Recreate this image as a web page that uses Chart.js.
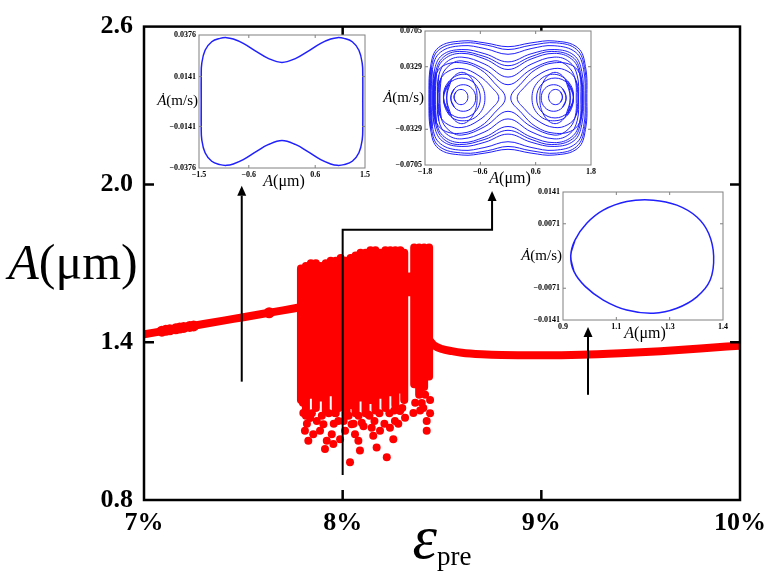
<!DOCTYPE html>
<html>
<head>
<meta charset="utf-8">
<script src="https://cdn.jsdelivr.net/npm/chart.js@4.4.0/dist/chart.umd.min.js"></script>
<style>
html, body { margin: 0; padding: 0; background: #fff; }
#wrap { position: relative; width: 774px; height: 577px; }
canvas { position: absolute; }
</style>
</head>
<body>
<div id="wrap">
  <canvas id="main" width="774" height="577" style="left:0;top:0"></canvas>
  <canvas id="in1"></canvas>
  <canvas id="in2"></canvas>
  <canvas id="in3"></canvas>
</div>
<script>
// ---- main diagram data ----
const xTickValues = [7, 8, 9, 10];
const yTickValues = [0.8, 1.4, 2.0, 2.6];

// period-1 branch before the chaotic window
const leftX = [7.0, 7.1, 7.2, 7.3, 7.4, 7.5, 7.6, 7.7, 7.78];
const leftY = [1.430, 1.443, 1.456, 1.469, 1.482, 1.495, 1.508, 1.521, 1.532];
// beads on the left branch
const beadX = [7.09, 7.11, 7.13, 7.16, 7.18, 7.2, 7.23, 7.25, 7.63];
const beadY = [1.442, 1.445, 1.447, 1.451, 1.454, 1.456, 1.46, 1.462, 1.512];
// branch after the chaotic window
const rightX = [8.44, 8.46, 8.5, 8.55, 8.6, 8.7, 8.8, 9.0, 9.2, 9.4, 9.6, 9.8, 10.0];
const rightY = [1.405, 1.388, 1.374, 1.366, 1.360, 1.354, 1.351, 1.350, 1.352, 1.358, 1.366, 1.376, 1.387];

// chaotic window: dense columns (low / high) and loose points below them
const chaosX = [7.79, 7.815, 7.84, 7.865, 7.89, 7.915, 7.94, 7.965, 7.99, 8.015, 8.04, 8.065, 8.09, 8.115,
                8.14, 8.165, 8.19, 8.215, 8.24, 8.265, 8.29, 8.31, 8.335, 8.36, 8.385, 8.41, 8.435];
const chaosLow = [1.18, 1.12, 1.20, 1.15, 1.19, 1.14, 1.21, 1.13, 1.17, 1.12, 1.16, 1.13, 1.19, 1.13,
                  1.18, 1.14, 1.20, 1.15, 1.21, 1.16, 1.22, 1.18, 1.59, 1.24, 1.20, 1.23, 1.27];
const chaosHigh = [1.68, 1.69, 1.70, 1.70, 1.69, 1.70, 1.71, 1.71, 1.72, 1.71, 1.72, 1.73, 1.74, 1.74,
                   1.75, 1.75, 1.74, 1.75, 1.75, 1.75, 1.75, 1.74, 1.65, 1.76, 1.76, 1.76, 1.76];
const dotX = [7.802, 7.836, 7.810, 7.827, 7.852, 7.886, 7.903, 7.920, 7.911, 7.945, 7.961, 7.978, 8.012,
              8.020, 8.045, 8.062, 8.087, 8.096, 8.129, 8.146, 8.171, 8.188, 8.222, 8.255, 8.263, 8.289,
              8.314, 8.356, 8.406, 8.423, 8.423, 8.398, 8.037, 7.953, 7.987, 8.079, 8.154, 8.238,
              7.80, 7.82, 7.845, 7.87, 7.895, 7.93, 7.955, 7.98, 8.005, 8.03, 8.055, 8.08, 8.105,
              8.135, 8.16, 8.185, 8.21, 8.235, 8.26, 8.28, 8.30, 8.365, 8.39, 8.415, 8.44, 8.44];
const dotY = [1.131, 1.112, 1.063, 1.025, 1.050, 1.063, 1.088, 1.025, 0.994, 1.050, 1.131, 1.100, 1.063,
              1.138, 1.088, 1.050, 0.988, 1.094, 1.125, 1.075, 1.000, 1.063, 0.963, 1.031, 1.100, 1.138,
              1.113, 1.131, 1.150, 1.100, 1.063, 1.169, 0.944, 1.013, 1.031, 1.025, 1.044, 1.075,
              1.17, 1.09, 1.13, 1.10, 1.12, 1.13, 1.09, 1.15, 1.10, 1.12, 1.09, 1.12, 1.08,
              1.12, 1.10, 1.13, 1.09, 1.13, 1.14, 1.09, 1.15, 1.17, 1.14, 1.20, 1.18, 1.13];

// pointer arrows (data coordinates), last point is the tip
const arrowPaths = [
  [[7.492, 1.25], [7.492, 1.995]],
  [[8.0, 0.895], [8.0, 1.828], [8.752, 1.828], [8.752, 1.975]],
  [[9.235, 1.20], [9.235, 1.458]]
];

// ---- inset phase portraits ----
const cycle1 = [[-1.46,0],[-1.46,0.014],[-1.45,0.0215],[-1.39,0.029],[-1.27,0.0338],[-1.12,0.0357],[-1.0,0.0361],
  [-0.88,0.0353],[-0.70,0.0329],[-0.46,0.0282],[-0.25,0.0244],[0,0.0221],[0.25,0.0244],[0.46,0.0282],[0.70,0.0329],
  [0.88,0.0353],[1.0,0.0361],[1.12,0.0357],[1.27,0.0338],[1.39,0.029],[1.45,0.0215],[1.46,0.014],[1.46,0],
  [1.46,-0.014],[1.45,-0.0215],[1.39,-0.029],[1.27,-0.0338],[1.12,-0.0357],[1.0,-0.0361],[0.88,-0.0353],
  [0.70,-0.0329],[0.46,-0.0282],[0.25,-0.0244],[0,-0.0221],[-0.25,-0.0244],[-0.46,-0.0282],[-0.70,-0.0329],
  [-0.88,-0.0353],[-1.0,-0.0361],[-1.12,-0.0357],[-1.27,-0.0338],[-1.39,-0.029],[-1.45,-0.0215],[-1.46,-0.014]];

const chaosLoops = [
  [[-1.71,0],[-1.68,0.033],[-1.51,0.053],[-1.0,0.060],[-0.5,0.058],[0,0.054],[0.5,0.058],[1.0,0.060],[1.51,0.053],[1.68,0.033],
   [1.71,0],[1.68,-0.033],[1.51,-0.053],[1.0,-0.060],[0.5,-0.058],[0,-0.054],[-0.5,-0.058],[-1.0,-0.060],[-1.51,-0.053],[-1.68,-0.033]],
  [[-1.69,0],[-1.66,0.032],[-1.49,0.051],[-0.95,0.058],[-0.45,0.0555],[0,0.051],[0.5,0.0555],[1.05,0.058],[1.49,0.051],[1.66,0.032],
   [1.69,0],[1.66,-0.032],[1.49,-0.051],[1.05,-0.058],[0.5,-0.0555],[0,-0.051],[-0.45,-0.0555],[-0.95,-0.058],[-1.49,-0.051],[-1.66,-0.032]],
  [[-1.67,0],[-1.64,0.030],[-1.47,0.048],[-1.0,0.055],[-0.5,0.052],[0,0.046],[0.5,0.052],[1.0,0.055],[1.47,0.048],[1.64,0.030],
   [1.67,0],[1.64,-0.030],[1.47,-0.048],[1.0,-0.055],[0.5,-0.052],[0,-0.046],[-0.5,-0.052],[-1.0,-0.055],[-1.47,-0.048],[-1.64,-0.030]],
  [[-1.63,0],[-1.60,0.028],[-1.43,0.045],[-1.0,0.051],[-0.5,0.0465],[0,0.038],[0.5,0.0465],[1.0,0.051],[1.43,0.045],[1.60,0.028],
   [1.63,0],[1.60,-0.028],[1.43,-0.045],[1.0,-0.051],[0.5,-0.0465],[0,-0.038],[-0.5,-0.0465],[-1.0,-0.051],[-1.43,-0.045],[-1.60,-0.028]],
  [[-1.60,0],[-1.57,0.027],[-1.40,0.043],[-1.05,0.049],[-0.5,0.0435],[0,0.034],[0.5,0.0435],[0.95,0.049],[1.40,0.043],[1.57,0.027],
   [1.60,0],[1.57,-0.027],[1.40,-0.043],[0.95,-0.049],[0.5,-0.0435],[0,-0.034],[-0.5,-0.0435],[-1.05,-0.049],[-1.40,-0.043],[-1.57,-0.027]],
  [[-1.58,0],[-1.55,0.026],[-1.38,0.041],[-1.0,0.047],[-0.5,0.041],[0,0.030],[0.5,0.041],[1.0,0.047],[1.38,0.041],[1.55,0.026],
   [1.58,0],[1.55,-0.026],[1.38,-0.041],[1.0,-0.047],[0.5,-0.041],[0,-0.030],[-0.5,-0.041],[-1.0,-0.047],[-1.38,-0.041],[-1.55,-0.026]],
  [[-1.53,0],[-1.50,0.024],[-1.33,0.038],[-1.0,0.043],[-0.5,0.0355],[0,0.022],[0.5,0.0355],[1.0,0.043],[1.33,0.038],[1.50,0.024],
   [1.53,0],[1.50,-0.024],[1.33,-0.038],[1.0,-0.043],[0.5,-0.0355],[0,-0.022],[-0.5,-0.0355],[-1.0,-0.043],[-1.33,-0.038],[-1.50,-0.024]],
  [[-1.48,0],[-1.45,0.021],[-1.28,0.034],[-1.0,0.039],[-0.5,0.030],[0,0.014],[0.5,0.030],[1.0,0.039],[1.28,0.034],[1.45,0.021],
   [1.48,0],[1.45,-0.021],[1.28,-0.034],[1.0,-0.039],[0.5,-0.030],[0,-0.014],[-0.5,-0.030],[-1.0,-0.039],[-1.28,-0.034],[-1.45,-0.021]],
  [[-1.62,0],[-1.58,0.022],[-1.40,0.034],[-1.0,0.037],[-0.6,0.030],[-0.3,0.016],[-0.06,0],[-0.3,-0.016],[-0.6,-0.030],[-1.0,-0.037],[-1.40,-0.034],[-1.58,-0.022]],
  [[-1.52,0],[-1.48,0.018],[-1.30,0.028],[-1.0,0.031],[-0.65,0.024],[-0.35,0.011],[-0.2,0],[-0.35,-0.011],[-0.65,-0.024],[-1.0,-0.031],[-1.30,-0.028],[-1.48,-0.018]],
  [[1.62,0],[1.58,0.022],[1.40,0.034],[1.0,0.037],[0.6,0.030],[0.3,0.016],[0.06,0],[0.3,-0.016],[0.6,-0.030],[1.0,-0.037],[1.40,-0.034],[1.58,-0.022]],
  [[1.52,0],[1.48,0.018],[1.30,0.028],[1.0,0.031],[0.65,0.024],[0.35,0.011],[0.2,0],[0.35,-0.011],[0.65,-0.024],[1.0,-0.031],[1.30,-0.028],[1.48,-0.018]],
  [[-1.40,0.002],[-1.27,0.018],[-0.95,0.025],[-0.63,0.017],[-0.50,0],[-0.63,-0.017],[-0.95,-0.024],[-1.27,-0.018]],
  [[-1.33,0],[-1.23,0.019],[-1.0,0.027],[-0.77,0.019],[-0.67,0],[-0.77,-0.019],[-1.0,-0.027],[-1.23,-0.019]],
  [[-1.40,0],[-1.28,0.015],[-1.0,0.021],[-0.72,0.015],[-0.60,0],[-0.72,-0.015],[-1.0,-0.021],[-1.28,-0.015]],
  [[-1.24,0],[-1.16,0.010],[-0.97,0.014],[-0.78,0.010],[-0.70,0],[-0.78,-0.010],[-0.97,-0.014],[-1.16,-0.010]],
  [[-1.17,0.001],[-1.125,0.0067],[-1.02,0.009],[-0.915,0.0067],[-0.87,0.001],[-0.915,-0.0047],[-1.02,-0.007],[-1.125,-0.0047]],
  [[1.42,0.002],[1.29,0.018],[0.97,0.025],[0.65,0.017],[0.52,0],[0.65,-0.017],[0.97,-0.024],[1.29,-0.018]],
  [[1.35,0],[1.25,0.019],[1.02,0.027],[0.79,0.019],[0.69,0],[0.79,-0.019],[1.02,-0.027],[1.25,-0.019]],
  [[1.42,0],[1.30,0.015],[1.02,0.021],[0.74,0.015],[0.62,0],[0.74,-0.015],[1.02,-0.021],[1.30,-0.015]],
  [[1.26,0],[1.18,0.010],[0.99,0.014],[0.80,0.010],[0.72,0],[0.80,-0.010],[0.99,-0.014],[1.18,-0.010]],
  [[1.18,0.001],[1.135,0.0067],[1.03,0.009],[0.925,0.0067],[0.88,0.001],[0.925,-0.0047],[1.03,-0.007],[1.135,-0.0047]]
];

const cycle3 = [[0.929,0],[0.945,0.0035],[0.989,0.0072],[1.051,0.0101],[1.139,0.0120],[1.239,0.0123],[1.327,0.0112],
  [1.402,0.0086],[1.446,0.0050],[1.465,0],[1.452,-0.0053],[1.402,-0.0090],[1.327,-0.0115],[1.239,-0.0126],
  [1.139,-0.0119],[1.051,-0.0097],[0.983,-0.0067],[0.941,-0.0034]];

const inset1XTicks = [-1.5, -0.6, 0.6, 1.5];
const inset1XLabels = ['\u22121.5', '\u22120.6', '0.6', '1.5'];
const inset1YTicks = [-0.0376, -0.0141, 0.0141, 0.0376];
const inset1YLabels = ['\u22120.0376', '\u22120.0141', '0.0141', '0.0376'];
const inset2XTicks = [-1.8, -0.6, 0.6, 1.8];
const inset2XLabels = ['\u22121.8', '\u22120.6', '0.6', '1.8'];
const inset2YTicks = [-0.0705, -0.0329, 0.0329, 0.0705];
const inset2YLabels = ['\u22120.0705', '\u22120.0329', '0.0329', '0.0705'];
const inset3XTicks = [0.9, 1.1, 1.3, 1.5];
const inset3XLabels = ['0.9', '1.1', '1.3', '1.4'];
const inset3YTicks = [-0.0141, -0.0071, 0.0071, 0.0141];
const inset3YLabels = ['\u22120.0141', '\u22120.0071', '0.0071', '0.0141'];

// ---- helpers ----
const SERIF = '"Liberation Serif", "Times New Roman", serif';
const RED = '#ff0000';
const BLUE = '#1f1fff';
Chart.defaults.font.family = SERIF;

const xy = (xs, ys) => xs.map((x, i) => ({ x: x, y: ys[i] }));
const closeLoop = pts => [pts[pts.length - 1], ...pts, pts[0], pts[1]].map(p => ({ x: p[0], y: p[1] }));

function drawRich(ctx, parts, x, y, align, size) {
  let w = 0;
  parts.forEach(p => {
    ctx.font = (p.i ? 'italic ' : '') + (p.s || size) + 'px ' + SERIF;
    p.w = ctx.measureText(p.t).width;
    w += p.w;
  });
  let cx = align === 'right' ? x - w : align === 'center' ? x - w / 2 : x;
  ctx.textAlign = 'left';
  ctx.textBaseline = 'middle';
  parts.forEach(p => {
    ctx.font = (p.i ? 'italic ' : '') + (p.s || size) + 'px ' + SERIF;
    ctx.fillText(p.t, cx, y + (p.dy || 0));
    cx += p.w;
  });
}

// box frame with inward ticks on all four sides
const framePlugin = {
  id: 'frame',
  beforeDraw(chart, args, opts) {
    if (!opts.fill) return;
    const a = chart.chartArea, ctx = chart.ctx;
    ctx.save();
    ctx.fillStyle = opts.fill;
    ctx.fillRect(a.left, a.top, a.right - a.left, a.bottom - a.top);
    ctx.restore();
  },
  afterDraw(chart, args, opts) {
    const a = chart.chartArea, ctx = chart.ctx;
    const sx = chart.scales.x, sy = chart.scales.y;
    const L = opts.tick;
    ctx.save();
    ctx.strokeStyle = opts.color;
    ctx.lineWidth = opts.width;
    ctx.beginPath();
    sx.ticks.forEach(t => {
      if (t.value <= sx.min || t.value >= sx.max) return;
      const p = sx.getPixelForValue(t.value);
      ctx.moveTo(p, a.bottom); ctx.lineTo(p, a.bottom - L);
      ctx.moveTo(p, a.top); ctx.lineTo(p, a.top + L);
    });
    sy.ticks.forEach(t => {
      if (t.value <= sy.min || t.value >= sy.max) return;
      const p = sy.getPixelForValue(t.value);
      ctx.moveTo(a.left, p); ctx.lineTo(a.left + L, p);
      ctx.moveTo(a.right, p); ctx.lineTo(a.right - L, p);
    });
    ctx.stroke();
    ctx.strokeRect(a.left, a.top, a.right - a.left, a.bottom - a.top);
    ctx.restore();
  }
};

// axis titles and arrows of the main plot
const mainDecor = {
  id: 'mainDecor',
  afterDraw(chart) {
    const ctx = chart.ctx, sx = chart.scales.x, sy = chart.scales.y;
    ctx.save();
    ctx.fillStyle = '#000';
    drawRich(ctx, [{ t: 'A', i: true }, { t: '(\u03bcm)' }], 73, 266, 'center', 50);
    drawRich(ctx, [{ t: '\u03b5', i: true, s: 62 }, { t: 'pre', s: 27, dy: 16 }], 442, 542, 'center', 62);
    ctx.strokeStyle = '#000';
    ctx.lineWidth = 2;
    arrowPaths.forEach(path => {
      const pts = path.map(p => [sx.getPixelForValue(p[0]), sy.getPixelForValue(p[1])]);
      const n = pts.length;
      const tip = pts[n - 1], prev = pts[n - 2];
      const ang = Math.atan2(tip[1] - prev[1], tip[0] - prev[0]);
      const hl = 10, hw = 4.5;
      ctx.beginPath();
      ctx.moveTo(pts[0][0], pts[0][1]);
      for (let i = 1; i < n - 1; i++) ctx.lineTo(pts[i][0], pts[i][1]);
      ctx.lineTo(tip[0] - Math.cos(ang) * hl, tip[1] - Math.sin(ang) * hl);
      ctx.stroke();
      ctx.beginPath();
      ctx.moveTo(tip[0], tip[1]);
      ctx.lineTo(tip[0] - Math.cos(ang) * hl - Math.sin(ang) * hw, tip[1] - Math.sin(ang) * hl + Math.cos(ang) * hw);
      ctx.lineTo(tip[0] - Math.cos(ang) * hl + Math.sin(ang) * hw, tip[1] - Math.sin(ang) * hl - Math.cos(ang) * hw);
      ctx.closePath();
      ctx.fillStyle = '#000';
      ctx.fill();
    });
    ctx.restore();
  }
};

// ---- main chart ----
const columnPoints = [];
chaosX.forEach((x, i) => {
  columnPoints.push({ x: x, y: chaosLow[i] }, { x: x, y: chaosHigh[i] }, { x: x, y: null });
});

const tickFont = { family: SERIF, size: 26, weight: 'bold' };

new Chart(document.getElementById('main'), {
  type: 'scatter',
  data: {
    datasets: [
      { data: xy(leftX, leftY), showLine: true, borderColor: RED, borderWidth: 8, pointRadius: 0,
        cubicInterpolationMode: 'monotone', borderCapStyle: 'round' },
      { data: xy(rightX, rightY), showLine: true, borderColor: RED, borderWidth: 8, pointRadius: 0,
        cubicInterpolationMode: 'monotone', borderCapStyle: 'round' },
      { data: xy(beadX, beadY), pointRadius: 5.5, backgroundColor: RED, borderWidth: 0 },
      { data: columnPoints, showLine: true, spanGaps: false, borderColor: RED, borderWidth: 8,
        borderCapStyle: 'round', pointRadius: 0 },
      { data: xy(dotX, dotY), pointRadius: 4, backgroundColor: RED, borderWidth: 0 }
    ]
  },
  options: {
    responsive: false,
    animation: false,
    events: [],
    layout: { padding: { top: 20, right: 34, left: 0, bottom: 0 } },
    plugins: {
      legend: { display: false },
      tooltip: { enabled: false },
      frame: { color: '#000', width: 2.5, tick: 10 }
    },
    scales: {
      x: {
        type: 'linear', min: 7, max: 10,
        afterBuildTicks: s => { s.ticks = xTickValues.map(v => ({ value: v })); },
        afterFit: s => { s.height = 77; },
        ticks: { callback: v => v + '%', font: tickFont, color: '#000', padding: 8, maxRotation: 0, autoSkip: false },
        grid: { display: false, drawTicks: false },
        border: { display: false }
      },
      y: {
        type: 'linear', min: 0.8, max: 2.6,
        afterBuildTicks: s => { s.ticks = yTickValues.map(v => ({ value: v })); },
        afterFit: s => { s.width = 144; },
        ticks: { callback: v => v.toFixed(1), font: tickFont, color: '#000', padding: 11, autoSkip: false },
        grid: { display: false, drawTicks: false },
        border: { display: false }
      }
    }
  },
  plugins: [framePlugin, mainDecor]
});

// ---- insets ----
const insetLabels = {
  id: 'insetLabels',
  afterDraw(chart) {
    const a = chart.chartArea, ctx = chart.ctx;
    ctx.save();
    ctx.fillStyle = '#000';
    drawRich(ctx, [{ t: '\u0226', i: true }, { t: '(m/s)' }], a.left - 1, (a.top + a.bottom) / 2, 'right', 15);
    drawRich(ctx, [{ t: 'A', i: true }, { t: '(\u03bcm)' }], (a.left + a.right) / 2 + 2, a.bottom + 14, 'center', 16);
    ctx.restore();
  }
};

function makeInset(id, box, loops, lw, xr, yr, xt, xl, yt, yl) {
  const padL = 48, padT = 8, padR = 12, padB = 30;
  const cv = document.getElementById(id);
  cv.width = box.w + padL + padR;
  cv.height = box.h + padT + padB;
  cv.style.left = (box.x - padL) + 'px';
  cv.style.top = (box.y - padT) + 'px';
  const small = { family: SERIF, size: 8, weight: 'bold' };
  return new Chart(cv, {
    type: 'scatter',
    data: {
      datasets: loops.map(pts => ({
        data: closeLoop(pts), showLine: true, borderColor: BLUE, borderWidth: lw,
        pointRadius: 0, tension: 0.4
      }))
    },
    options: {
      responsive: false,
      animation: false,
      events: [],
      layout: { padding: { top: padT, right: padR, left: 0, bottom: 0 } },
      plugins: {
        legend: { display: false },
        tooltip: { enabled: false },
        frame: { color: '#808080', width: 1, tick: 3, fill: '#fff' }
      },
      scales: {
        x: {
          type: 'linear', min: xr[0], max: xr[1],
          afterBuildTicks: s => { s.ticks = xt.map(v => ({ value: v })); },
          afterFit: s => { s.height = padB; },
          ticks: { callback: (v, i) => xl[i], font: small, color: '#000', padding: 2, maxRotation: 0, autoSkip: false },
          grid: { display: false, drawTicks: false },
          border: { display: false }
        },
        y: {
          type: 'linear', min: yr[0], max: yr[1],
          afterBuildTicks: s => { s.ticks = yt.map(v => ({ value: v })); },
          afterFit: s => { s.width = padL; },
          ticks: { callback: (v, i) => yl[i], font: small, color: '#000', padding: 3, autoSkip: false },
          grid: { display: false, drawTicks: false },
          border: { display: false }
        }
      }
    },
    plugins: [framePlugin, insetLabels]
  });
}

makeInset('in1', { x: 199, y: 35, w: 166, h: 133 }, [cycle1], 1.5,
  [-1.5, 1.5], [-0.0376, 0.0376], inset1XTicks, inset1XLabels, inset1YTicks, inset1YLabels);
makeInset('in2', { x: 425, y: 31, w: 166, h: 134 }, chaosLoops, 1,
  [-1.8, 1.8], [-0.0705, 0.0705], inset2XTicks, inset2XLabels, inset2YTicks, inset2YLabels);
makeInset('in3', { x: 563, y: 192, w: 160, h: 128 }, [cycle3], 1.5,
  [0.9, 1.5], [-0.0141, 0.0141], inset3XTicks, inset3XLabels, inset3YTicks, inset3YLabels);
</script>
</body>
</html>
